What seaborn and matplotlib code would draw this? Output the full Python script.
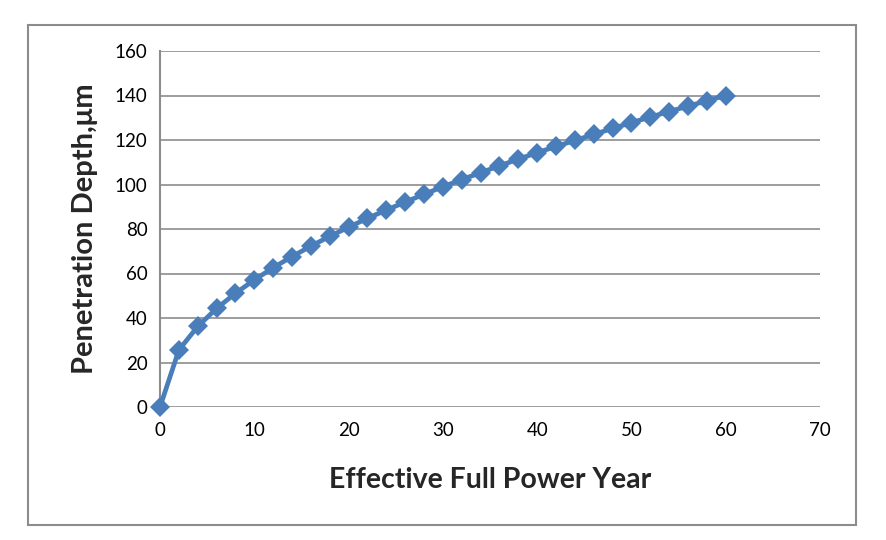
import matplotlib
matplotlib.use("Agg")
import matplotlib.pyplot as plt
import seaborn as sns
import pandas as pd
from matplotlib.patches import Rectangle

years = [0, 2, 4, 6, 8, 10, 12, 14, 16, 18, 20, 22, 24, 26, 28, 30,
         32, 34, 36, 38, 40, 42, 44, 46, 48, 50, 52, 54, 56, 58, 60]
depth = [0, 25.6, 36.2, 44.3, 51.1, 57.1, 62.6, 67.6, 72.3, 76.7, 80.8,
         84.8, 88.5, 92.1, 95.6, 99.0, 102.2, 105.3, 108.4, 111.4, 114.3,
         117.1, 119.8, 122.5, 125.2, 127.8, 130.3, 132.8, 135.2, 137.6, 140.0]
x_ticks = [0, 10, 20, 30, 40, 50, 60, 70]
y_ticks = [0, 20, 40, 60, 80, 100, 120, 140, 160]

sns.set_theme(style="white")
plt.rcParams['font.family'] = ['Lato', 'DejaVu Sans']

df = pd.DataFrame({"year": years, "depth": depth})

fig = plt.figure(figsize=(8.87, 5.40), dpi=100)
ax = fig.add_axes([160/887, 1-407/540, (820-160)/887, (407-51)/540])

fig.patches.append(Rectangle((28.5/887, 1-525/540), (856.5-28.5)/887, (525-24.5)/540,
                             transform=fig.transFigure, fill=False,
                             edgecolor='#8c8c8c', linewidth=1.5))

sns.lineplot(data=df, x="year", y="depth", ax=ax, color='#4a7ebb',
             linewidth=3.4, marker='D', markersize=10, markeredgewidth=0,
             clip_on=False, zorder=3)

ax.set_xlim(0, 70)
ax.set_ylim(0, 160)
ax.set_xticks(x_ticks)
ax.set_yticks(y_ticks)
ax.grid(axis='y', color='#8c8c8c', linewidth=1.2)
ax.grid(axis='x', visible=False)
for s in ['top', 'right', 'bottom']:
    ax.spines[s].set_visible(False)
ax.spines['left'].set_color('#8c8c8c')
ax.spines['left'].set_linewidth(1.5)
ax.tick_params(axis='both', length=0, labelsize=13.5, colors='black')
ax.tick_params(axis='x', pad=11)
ax.tick_params(axis='y', pad=9)
ax.set_xlabel("Effective Full Power Year", fontsize=20.5, fontweight='bold', labelpad=20)
ax.set_ylabel("Penetration Depth,μm", fontsize=21, fontweight='bold', labelpad=12)

fig.savefig("out.png", dpi=100)
